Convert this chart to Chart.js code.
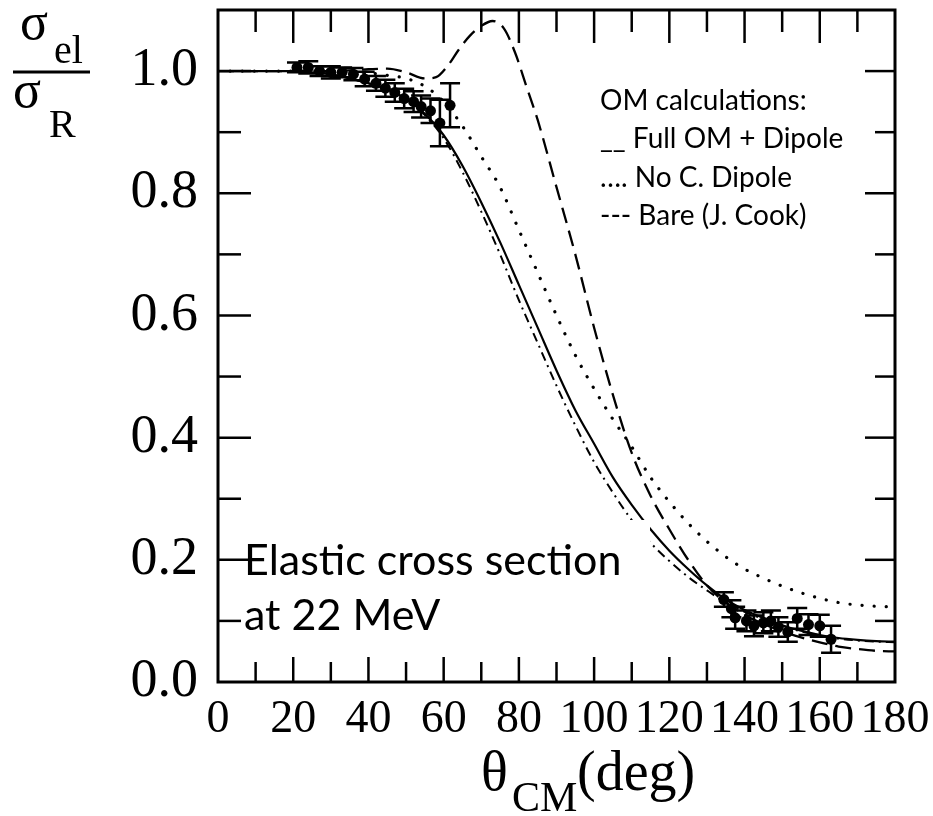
<!DOCTYPE html>
<html>
<head>
<meta charset="utf-8">
<style>
  html, body { margin: 0; padding: 0; background: #fff; }
  canvas { display: block; }
</style>
<script src="https://cdn.jsdelivr.net/npm/chart.js@4.4.1/dist/chart.umd.min.js"></script>
</head>
<body>
<canvas id="chart" width="933" height="816" style="width:933px;height:816px"></canvas>
<script>
// curves (theta in deg, sigma_el / sigma_R)
var curveAngles = [0, 5, 10, 15, 20, 25, 30, 35, 40, 45, 50, 55, 60, 65, 70, 75, 80, 85, 90,
                   95, 100, 105, 110, 115, 120, 125, 130, 135, 140, 145, 150, 155, 160, 165, 170, 175, 180];
var fullOM = [1.0, 1.0, 1.0, 1.0, 1.0, 0.998, 0.995, 0.988, 0.98, 0.97, 0.955, 0.93, 0.895, 0.845, 0.785,
              0.72, 0.65, 0.58, 0.51, 0.445, 0.39, 0.335, 0.29, 0.25, 0.215, 0.185, 0.158, 0.135, 0.118,
              0.105, 0.093, 0.084, 0.077, 0.072, 0.069, 0.067, 0.066];
var noDipole = [1.0, 1.0, 1.0, 1.0, 1.0, 1.0, 1.0, 0.999, 0.997, 0.993, 0.988, 0.975, 0.95, 0.91, 0.86,
                0.81, 0.74, 0.67, 0.6, 0.535, 0.48, 0.43, 0.385, 0.335, 0.295, 0.26, 0.23, 0.205, 0.185,
                0.17, 0.157, 0.146, 0.137, 0.13, 0.126, 0.124, 0.123];
var otherCalc = [1.0, 1.0, 1.0, 1.0, 1.0, 0.998, 0.995, 0.988, 0.98, 0.97, 0.955, 0.928, 0.89, 0.835, 0.77,
                 0.7, 0.625, 0.555, 0.485, 0.42, 0.36, 0.31, 0.265, 0.228, 0.198, 0.172, 0.15, 0.13, 0.115,
                 0.103, 0.092, 0.083, 0.076, 0.071, 0.068, 0.066, 0.065];

var bareAngles = [0, 10, 20, 30, 40, 45, 50, 55, 58, 61, 64, 67, 70, 73, 76, 79, 82, 85, 90, 95, 100,
                  105, 110, 115, 120, 125, 130, 135, 140, 145, 150, 155, 160, 165, 170, 175, 180];
var bare = [1.0, 1.0, 1.0, 1.0, 1.003, 1.004, 0.998, 0.988, 0.99, 1.008, 1.035, 1.058, 1.074, 1.082,
            1.07, 1.03, 0.975, 0.92, 0.81, 0.7, 0.58, 0.47, 0.375, 0.305, 0.25, 0.2, 0.158, 0.13, 0.11,
            0.095, 0.083, 0.073, 0.065, 0.058, 0.054, 0.051, 0.05];

// measured points with error bars
var dataAngle = [21, 24, 27, 30, 33, 36, 39, 42, 44.5, 47, 49.5, 52, 54, 56.5, 59, 61.7,
                 134.5, 136.5, 137.5, 140.5, 142.5, 145, 147, 149, 151.5, 154, 157, 160, 163];
var dataValue = [1.006, 1.006, 1.0, 0.998, 0.998, 0.995, 0.987, 0.98, 0.972, 0.965, 0.955, 0.95, 0.942, 0.935, 0.915, 0.944,
                 0.135, 0.12, 0.105, 0.1, 0.092, 0.097, 0.1, 0.09, 0.082, 0.104, 0.094, 0.092, 0.07];
var dataErr = [0.008, 0.01, 0.008, 0.01, 0.008, 0.01, 0.012, 0.012, 0.014, 0.015, 0.016, 0.017, 0.018, 0.02, 0.038, 0.036,
               0.012, 0.014, 0.018, 0.017, 0.017, 0.017, 0.017, 0.016, 0.016, 0.017, 0.017, 0.018, 0.022];

var xMajor = [0, 20, 40, 60, 80, 100, 120, 140, 160, 180];
var xMinor = [10, 30, 50, 70, 90, 110, 130, 150, 170];
var yMajor = [0, 0.2, 0.4, 0.6, 0.8, 1.0];
var yMinor = [0.1, 0.3, 0.5, 0.7, 0.9];

var legendLines = ['OM calculations:', '__ Full OM + Dipole', '…. No C. Dipole', '--- Bare (J. Cook)'];
var noteLines = ['Elastic cross section', 'at 22 MeV'];

function pts(xs, ys) {
  return xs.map(function(x, i) { return { x: x, y: ys[i] }; });
}

var serif = '"Liberation Serif", "Times New Roman", serif';
var sans = 'Lato, "Open Sans", sans-serif';

var decor = {
  id: 'decor',
  afterDatasetsDraw: function(chart) {
    var ctx = chart.ctx, xs = chart.scales.x, ys = chart.scales.y, a = chart.chartArea;
    ctx.save();
    ctx.strokeStyle = '#000';
    ctx.fillStyle = '#000';

    // error bars
    ctx.lineWidth = 2.5;
    dataAngle.forEach(function(t, i) {
      var px = xs.getPixelForValue(t);
      var top = ys.getPixelForValue(dataValue[i] + dataErr[i]);
      var bot = ys.getPixelForValue(dataValue[i] - dataErr[i]);
      ctx.beginPath();
      ctx.moveTo(px, top); ctx.lineTo(px, bot);
      ctx.moveTo(px - 10, top); ctx.lineTo(px + 10, top);
      ctx.moveTo(px - 10, bot); ctx.lineTo(px + 10, bot);
      ctx.stroke();
    });

    // white box behind the note
    ctx.fillStyle = '#fff';
    ctx.fillRect(a.left + 3, 520, 650 - a.left - 3, a.bottom - 523);
    ctx.fillStyle = '#000';
    ctx.font = '43px ' + sans;
    ctx.textBaseline = 'alphabetic';
    ctx.fillText(noteLines[0], 244, 575);
    ctx.fillText(noteLines[1], 244, 630);

    // legend text
    ctx.font = '28px ' + sans;
    var base = [110, 148, 187, 225];
    legendLines.forEach(function(s, i) { ctx.fillText(s, 600, base[i]); });

    // frame and inward ticks
    ctx.lineWidth = 3;
    ctx.strokeRect(a.left, a.top, a.right - a.left, a.bottom - a.top);
    ctx.lineWidth = 2.5;
    function seg(x1, y1, x2, y2) { ctx.beginPath(); ctx.moveTo(x1, y1); ctx.lineTo(x2, y2); ctx.stroke(); }
    xMajor.slice(1, -1).forEach(function(v) {
      var p = xs.getPixelForValue(v);
      seg(p, a.bottom, p, a.bottom - 25); seg(p, a.top, p, a.top + 33);
    });
    xMinor.forEach(function(v) {
      var p = xs.getPixelForValue(v);
      seg(p, a.bottom, p, a.bottom - 20); seg(p, a.top, p, a.top + 22);
    });
    yMajor.slice(1).forEach(function(v) {
      var p = ys.getPixelForValue(v);
      seg(a.left, p, a.left + 33, p); seg(a.right, p, a.right - 30, p);
    });
    yMinor.forEach(function(v) {
      var p = ys.getPixelForValue(v);
      seg(a.left, p, a.left + 23, p); seg(a.right, p, a.right - 20, p);
    });
    ctx.restore();
  },
  afterDraw: function(chart) {
    var ctx = chart.ctx;
    ctx.save();
    ctx.fillStyle = '#000';
    ctx.strokeStyle = '#000';
    ctx.textBaseline = 'alphabetic';
    // y title: sigma_el / sigma_R
    ctx.font = '52px ' + serif;
    ctx.fillText('σ', 20, 39);
    ctx.fillText('σ', 13, 107);
    ctx.font = '40px ' + serif;
    ctx.fillText('el', 54, 63);
    ctx.fillText('R', 49, 137);
    ctx.lineWidth = 3;
    ctx.beginPath(); ctx.moveTo(13, 72); ctx.lineTo(90, 72); ctx.stroke();
    // x title: theta_CM(deg)
    ctx.font = '56px ' + serif;
    ctx.fillText('θ', 481, 790);
    ctx.fillText('(deg)', 577, 790);
    ctx.font = '42px ' + serif;
    ctx.fillText('CM', 512, 811);
    ctx.restore();
  }
};

var ctx = document.getElementById('chart').getContext('2d');
var chart = new Chart(ctx, {
  type: 'scatter',
  data: {
    datasets: [
      {
        label: 'Data',
        data: pts(dataAngle, dataValue),
        showLine: false,
        pointRadius: 5.5,
        pointBackgroundColor: '#000',
        pointBorderColor: '#000',
        pointBorderWidth: 0
      },
      {
        label: 'Full OM + Dipole',
        data: pts(curveAngles, fullOM),
        showLine: true, pointRadius: 0,
        borderColor: '#000', borderWidth: 2.2,
        cubicInterpolationMode: 'monotone'
      },
      {
        label: 'No C. Dipole',
        data: pts(curveAngles, noDipole),
        showLine: true, pointRadius: 0,
        borderColor: '#000', borderWidth: 3.2,
        borderDash: [0.1, 12], borderCapStyle: 'round',
        cubicInterpolationMode: 'monotone'
      },
      {
        label: 'Bare (J. Cook)',
        data: pts(bareAngles, bare),
        showLine: true, pointRadius: 0,
        borderColor: '#000', borderWidth: 2.3,
        borderDash: [16, 8],
        cubicInterpolationMode: 'monotone'
      },
      {
        label: 'other',
        data: pts(curveAngles, otherCalc),
        showLine: true, pointRadius: 0,
        borderColor: '#000', borderWidth: 2,
        borderDash: [9, 5, 2, 5],
        cubicInterpolationMode: 'monotone'
      }
    ]
  },
  options: {
    responsive: false,
    devicePixelRatio: 1,
    animation: false,
    layout: { padding: { top: 10, right: 38, left: 0, bottom: 0 } },
    plugins: { legend: { display: false }, tooltip: { enabled: false } },
    scales: {
      x: {
        type: 'linear', min: 0, max: 180,
        grid: { display: false, drawTicks: false },
        border: { display: false },
        afterBuildTicks: function(s) { s.ticks = xMajor.map(function(v) { return { value: v }; }); },
        afterFit: function(s) { s.height = 134; s.paddingLeft = 0; s.paddingRight = 0; },
        ticks: {
          autoSkip: false, maxRotation: 0, padding: 10, color: '#000',
          font: { family: serif, size: 46 },
          callback: function(v) { return String(v); }
        }
      },
      y: {
        type: 'linear', min: 0, max: 1.1,
        grid: { display: false, drawTicks: false },
        border: { display: false },
        afterBuildTicks: function(s) { s.ticks = yMajor.map(function(v) { return { value: v }; }); },
        afterFit: function(s) { s.width = 218; s.paddingTop = 0; s.paddingBottom = 0; },
        ticks: {
          autoSkip: false, padding: 20, color: '#000',
          font: { family: serif, size: 54 },
          callback: function(v) { return v.toFixed(1); }
        }
      }
    }
  },
  plugins: [decor]
});
</script>
</body>
</html>
